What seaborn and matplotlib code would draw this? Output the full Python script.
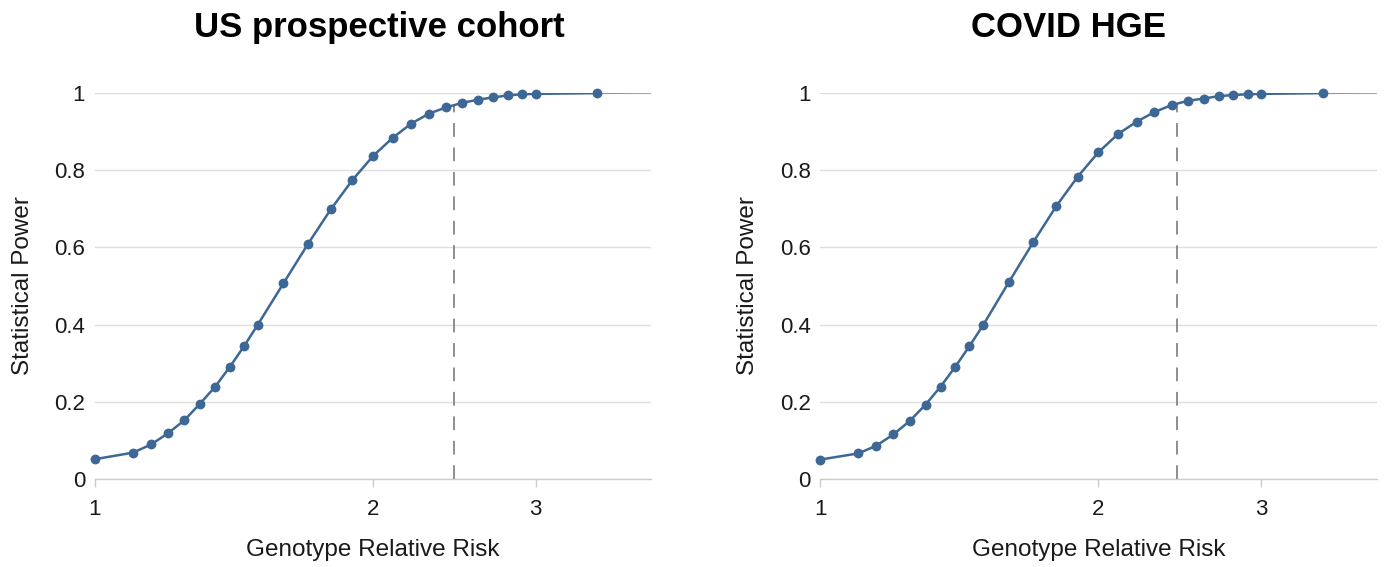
import numpy as np
import pandas as pd
import matplotlib
matplotlib.use("Agg")
import matplotlib.pyplot as plt
import seaborn as sns

titles = ["US prospective cohort", "COVID HGE"]
grr = [1.0, 1.1, 1.15, 1.2, 1.25, 1.3, 1.35, 1.4, 1.45, 1.5, 1.6, 1.7, 1.8, 1.9,
       2.0, 2.1, 2.2, 2.3, 2.4, 2.5, 2.6, 2.7, 2.8, 2.9, 3.0, 3.5]
power_us = [0.052, 0.069, 0.090, 0.119, 0.153, 0.196, 0.240, 0.291, 0.344, 0.399,
            0.507, 0.608, 0.698, 0.774, 0.836, 0.883, 0.920, 0.946, 0.962, 0.974,
            0.982, 0.988, 0.993, 0.996, 0.997, 0.999]
power_hge = [0.051, 0.067, 0.087, 0.116, 0.151, 0.193, 0.240, 0.291, 0.344, 0.398,
             0.510, 0.613, 0.706, 0.783, 0.846, 0.893, 0.925, 0.950, 0.968, 0.979,
             0.985, 0.991, 0.994, 0.996, 0.997, 0.999]
tail_x = [3.5, 4.0]
tail_y = [0.999, 1.0]
threshold = [2.45, 2.43]
xticks = [1, 2, 3]
yticks = [0, 0.2, 0.4, 0.6, 0.8, 1.0]
ytick_labels = ["0", "0.2", "0.4", "0.6", "0.8", "1"]

sns.set_style("white")
plt.rcParams["font.family"] = ["Liberation Sans", "DejaVu Sans"]

LINE = "#3d6896"
TEXT = "#1a1a1a"
fig = plt.figure(figsize=(13.86, 5.67), dpi=100)
positions = [[0.0685, 0.1547, 0.4012, 0.6818], [0.5918, 0.1547, 0.4014, 0.6818]]
title_x = [0.511, 0.447]
series = [power_us, power_hge]

for i in range(2):
    ax = fig.add_axes(positions[i])
    df = pd.DataFrame({"grr": grr, "power": series[i]})
    ax.set_xscale("log")
    for yv in yticks:
        ax.axhline(yv, color="#dedede", lw=1.0, zorder=0)
    sns.lineplot(x=tail_x, y=tail_y, ax=ax, color="#8295b3", lw=1.4, zorder=2)
    sns.lineplot(data=df, x="grr", y="power", ax=ax, color=LINE, lw=1.8, zorder=3)
    sns.scatterplot(data=df, x="grr", y="power", ax=ax, color=LINE, s=50,
                    edgecolor=LINE, linewidth=0, zorder=4, clip_on=False)
    top = float(np.interp(threshold[i], grr, series[i]))
    ax.axvline(threshold[i], ymin=0, ymax=top, color="#707070", lw=1.1,
               dashes=(9, 7), zorder=1)
    ax.set_xlim(1, 4)
    ax.set_ylim(0, 1)
    ax.set_xticks(xticks)
    ax.set_xticklabels([str(t) for t in xticks])
    ax.xaxis.set_minor_locator(matplotlib.ticker.NullLocator())
    ax.set_yticks(yticks)
    ax.set_yticklabels(ytick_labels)
    for s in ["top", "right", "left"]:
        ax.spines[s].set_visible(False)
    ax.spines["bottom"].set_color("#cccccc")
    ax.spines["bottom"].set_linewidth(1.0)
    ax.tick_params(axis="x", length=6, width=1, color="#cccccc", labelsize=16,
                   pad=8, bottom=True)
    ax.tick_params(axis="y", length=0, labelsize=16, pad=7)
    for lab in ax.get_xticklabels() + ax.get_yticklabels():
        lab.set_color(TEXT)
    ax.set_xlabel("Genotype Relative Risk", fontsize=17.5, color=TEXT, labelpad=14)
    ax.set_ylabel("Statistical Power", fontsize=17.5, color=TEXT, labelpad=15)
    ax.set_title(titles[i], fontsize=25, fontweight="bold", pad=40, color="#000000",
                 x=title_x[i])

fig.savefig("out.png", dpi=100)
